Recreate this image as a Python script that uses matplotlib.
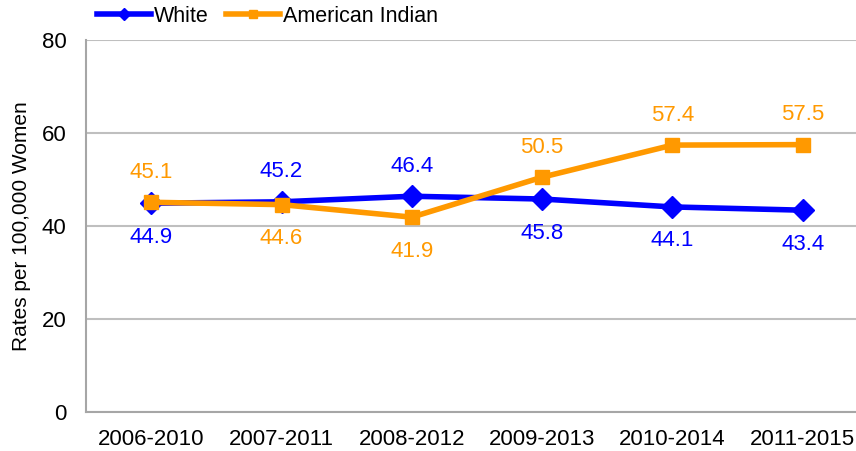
import matplotlib
matplotlib.use("Agg")
import matplotlib.pyplot as plt

plt.rcParams['font.family'] = ['Liberation Sans', 'DejaVu Sans']

categories = ["2006-2010", "2007-2011", "2008-2012", "2009-2013", "2010-2014", "2011-2015"]
white = [44.9, 45.2, 46.4, 45.8, 44.1, 43.4]
american_indian = [45.1, 44.6, 41.9, 50.5, 57.4, 57.5]
white_above = [False, True, True, False, False, False]
ai_above = [True, False, False, True, True, True]

fig = plt.figure(figsize=(8.56, 4.51), dpi=100)
ax = fig.add_axes([86/856, (451-412)/451, (868-86)/856, (412-40)/451])

x = list(range(len(categories)))
blue = "#0000FF"
orange = "#FF9900"
ax.plot(x, white, color=blue, lw=4, marker="D", ms=11, label="White", zorder=3)
ax.plot(x, american_indian, color=orange, lw=4, marker="s", ms=10.5, label="American Indian", zorder=4)

UP, DOWN = 21.5, -24.5
for xi, v, up in zip(x, white, white_above):
    ax.annotate(f"{v:.1f}", (xi, v), xytext=(0, UP if up else DOWN), textcoords="offset points",
                ha="center", va="center", color=blue, fontsize=16)
for xi, v, up in zip(x, american_indian, ai_above):
    ax.annotate(f"{v:.1f}", (xi, v), xytext=(0, UP if up else DOWN), textcoords="offset points",
                ha="center", va="center", color=orange, fontsize=16)

ax.set_xlim(-0.5, 5.5)
ax.set_ylim(0, 80)
ax.set_yticks([0, 20, 40, 60, 80])
ax.set_xticks(x)
ax.set_xticklabels(categories)
ax.tick_params(axis="both", length=0, labelsize=16, pad=12)
ax.tick_params(axis="y", pad=14)
ax.grid(axis="y", color="#BFBFBF", lw=1.5)
ax.set_axisbelow(True)
for s in ["top", "right"]:
    ax.spines[s].set_visible(False)
for s in ["left", "bottom"]:
    ax.spines[s].set_color("#A6A6A6")
    ax.spines[s].set_linewidth(1.5)
ax.set_ylabel("Rates per 100,000 Women", fontsize=15, labelpad=8)

ax.legend(loc="center left", bbox_to_anchor=(97/856, (451-16)/451), bbox_transform=fig.transFigure,
          ncol=2, frameon=False, fontsize=15.5, handlelength=2.5, handletextpad=0.15, columnspacing=0.8,
          borderaxespad=0, borderpad=0, markerscale=0.6)

fig.savefig("out.png", dpi=100)
